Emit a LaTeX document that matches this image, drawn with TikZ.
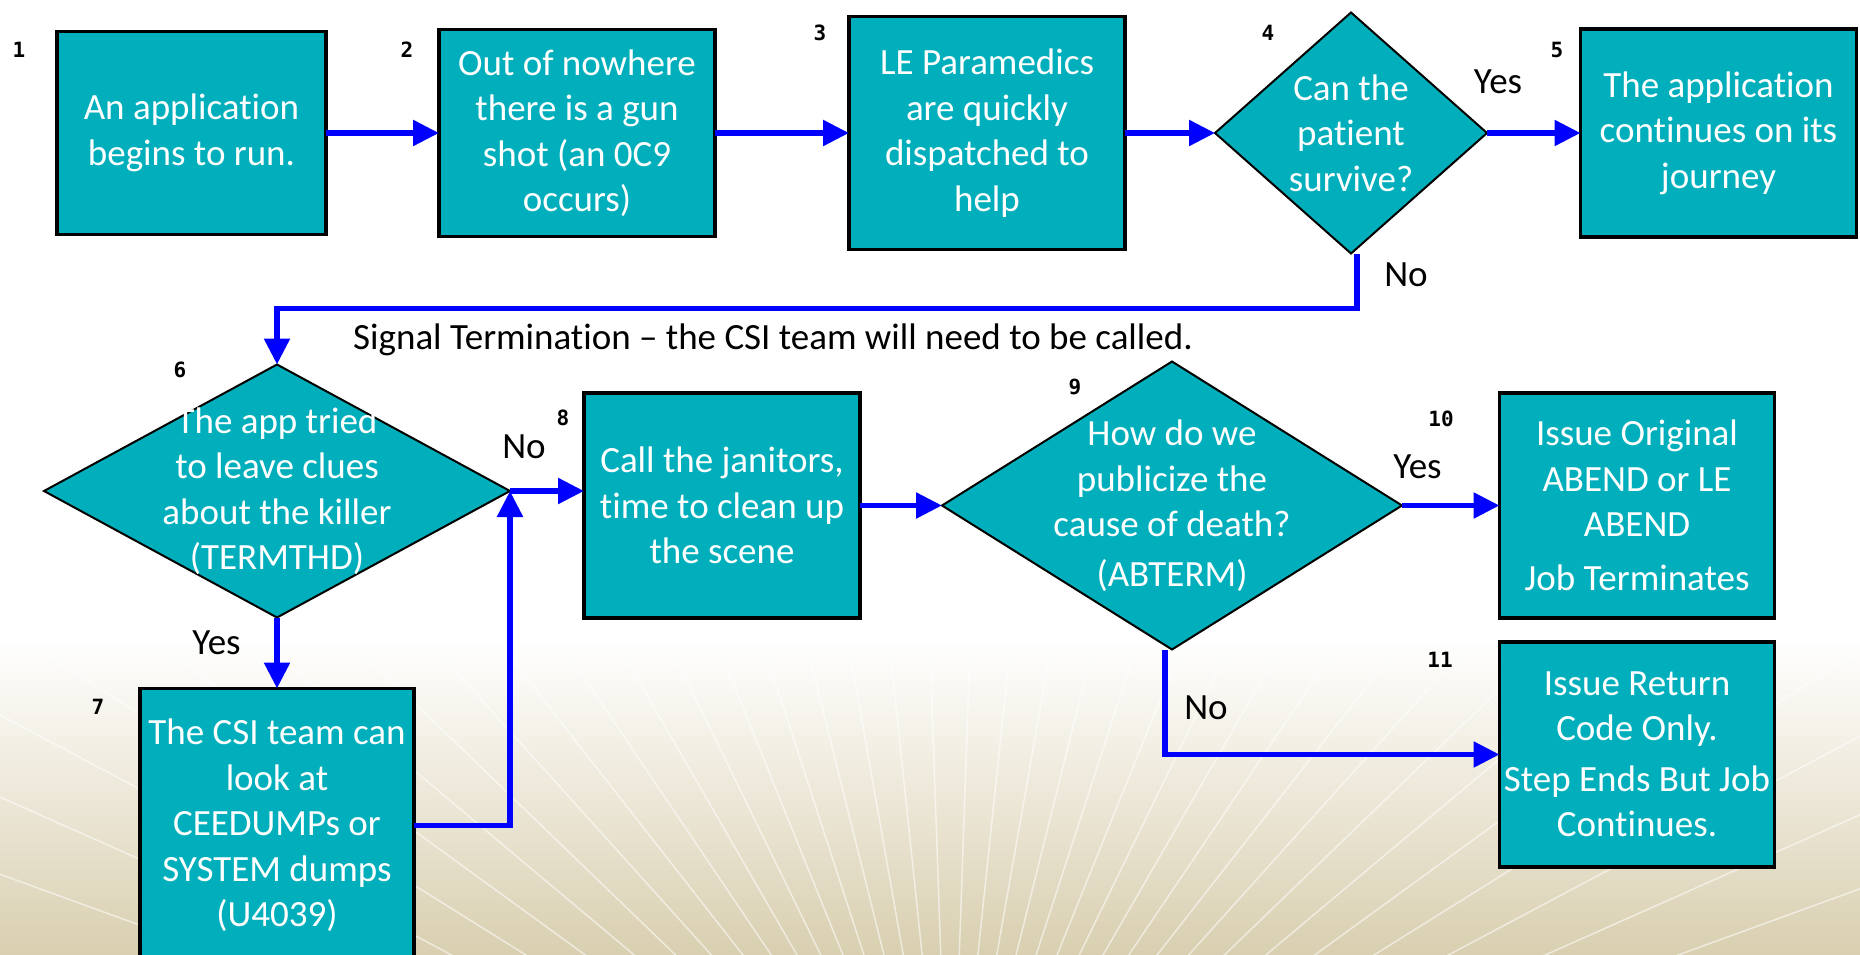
\documentclass[tikz,border=0pt]{standalone}
\usepackage{fontspec}
\setmainfont[Ligatures={TeX,NoCommon}]{Carlito}
\newfontfamily\numfont{DejaVu Sans Mono}
\usetikzlibrary{arrows.meta,positioning,shapes.geometric}

\definecolor{boxteal}{RGB}{0,175,187}
\definecolor{flowblue}{RGB}{0,0,255}
\definecolor{sand}{RGB}{217,207,176}

\tikzset{
  stepbox/.style={draw=black,line width=3.5pt,fill=boxteal,text=white,align=center,inner sep=0pt,outer sep=0pt,minimum width=276pt},
  query/.style={diamond,draw=black,line width=2pt,fill=boxteal,inner sep=0pt,outer sep=0pt},
  qtext/.style={text=white,align=center},
  flow/.style={flowblue,line width=5.5pt,-{Triangle[length=26pt,width=25pt]}},
  stepno/.style={font=\numfont\bfseries\fontsize{21}{21}\selectfont},
}

\begin{document}
\begin{tikzpicture}[x=1pt,y=-1pt,font=\fontsize{37}{45.5}\selectfont]
  \useasboundingbox (0,0) rectangle (1860,955);
  \clip (0,0) rectangle (1860,955);

  % backdrop with sun rays
  \fill[white] (0,0) rectangle (1860,955);
  \shade[top color=white,bottom color=sand] (0,640) rectangle (1860,955);
  \foreach \a in {20,24,...,160}
    \draw[white,line width=1.5pt,opacity=0.55] (950,1220) -- ++(\a:1700pt);

  % first row
  \node[stepbox,minimum width=269pt,minimum height=203pt] (b1) at (191.5,133) {An application\\begins to run.};
  \node[stepbox,minimum height=207pt] (b2) [right=113pt of b1] {Out of nowhere\\there is a gun\\shot (an 0C9\\occurs)};
  \node[stepbox,minimum height=233pt] (b3) [right=134pt of b2] {LE Paramedics\\are quickly\\dispatched to\\help};
  \node[query,minimum width=272pt,minimum height=241pt] (d4) [right=90pt of b3] {};
  \node[qtext] (t4) at (d4) {Can the\\patient\\survive?};
  \node[stepbox,minimum height=208pt] (b5) [right=93.5pt of d4] {The application\\continues on its\\journey};

  % second row
  \node[query,minimum width=466pt,minimum height=253pt] (d6) at (277,491) {};
  \node[qtext] (t6) at (d6) {The app tried\\to leave clues\\about the killer\\(TERMTHD)};
  \node[stepbox,minimum width=274pt,minimum height=274pt] (b7) [below=71pt of d6] {The CSI team can\\look at\\CEEDUMPs or\\SYSTEM dumps\\(U4039)};
  \node[stepbox,minimum height=225pt] (b8) [right=74pt of d6,yshift=-14.5pt] {Call the janitors,\\time to clean up\\the scene};
  \node[query,minimum width=460pt,minimum height=288pt] (d9) [right=82pt of b8] {};
  \node[qtext] (t9) at (d9) {How do we\\publicize the\\cause of death?\\[4pt](ABTERM)};
  \node[stepbox,minimum width=275pt,minimum height=225pt] (b10) [right=97.5pt of d9] {Issue Original\\ABEND or LE\\ABEND\\[8pt]Job Terminates};
  \node[stepbox,minimum width=275pt,minimum height=225pt] (b11) [below=24pt of b10] {Issue Return\\Code Only.\\[5pt]Step Ends But Job\\Continues.};

  % step numbers
  \node[stepno] (n1) at (19,50) {1};
  \node[stepno] (n2) at (407,50) {2};
  \node[stepno] (n3) at (820,33) {3};
  \node[stepno] (n4) at (1268,33) {4};
  \node[stepno] (n5) at (1557,50) {5};
  \node[stepno] (n6) at (180,370) {6};
  \node[stepno] (n7) at (98,707) {7};
  \node[stepno] (n8) at (563,418) {8};
  \node[stepno] (n9) at (1075,387) {9};
  \node[stepno] (n10) at (1441,419) {10};
  \node[stepno] (n11) at (1440,660) {11};

  % answers and note
  \node (yes4) at (1498,82) {Yes};
  \node (no4) at (1406,275) {No};
  \node (signal) at (773,340) {Signal Termination – the CSI team will need to be called.};
  \node (no6) at (524,447) {No};
  \node (yes6) at (216.5,643) {Yes};
  \node (yes9) at (1417.5,467) {Yes};
  \node (no9) at (1206,708) {No};

  % connectors
  \draw[flow] (b1.east) -- (b2.west);
  \draw[flow] (b2.east) -- (b3.west);
  \draw[flow] (b3.east) -- (d4.west);
  \draw[flow] (d4.east) -- (b5.west);
  \draw[flow] ([xshift=6pt]d4.south) -- ++(0,55) -| (d6.north);
  \draw[flow] (d6.east) -- (d6.east -| b8.west);
  \draw[flow] (d6.south) -- (b7.north);
  \draw[flow] (b7.east) -| (d6.east);
  \draw[flow] (d9.west -| b8.east) -- (d9.west);
  \draw[flow] (d9.east) -- (d9.east -| b10.west);
  \draw[flow] ([xshift=-7pt]d9.south) |- (b11.west);
\end{tikzpicture}
\end{document}
